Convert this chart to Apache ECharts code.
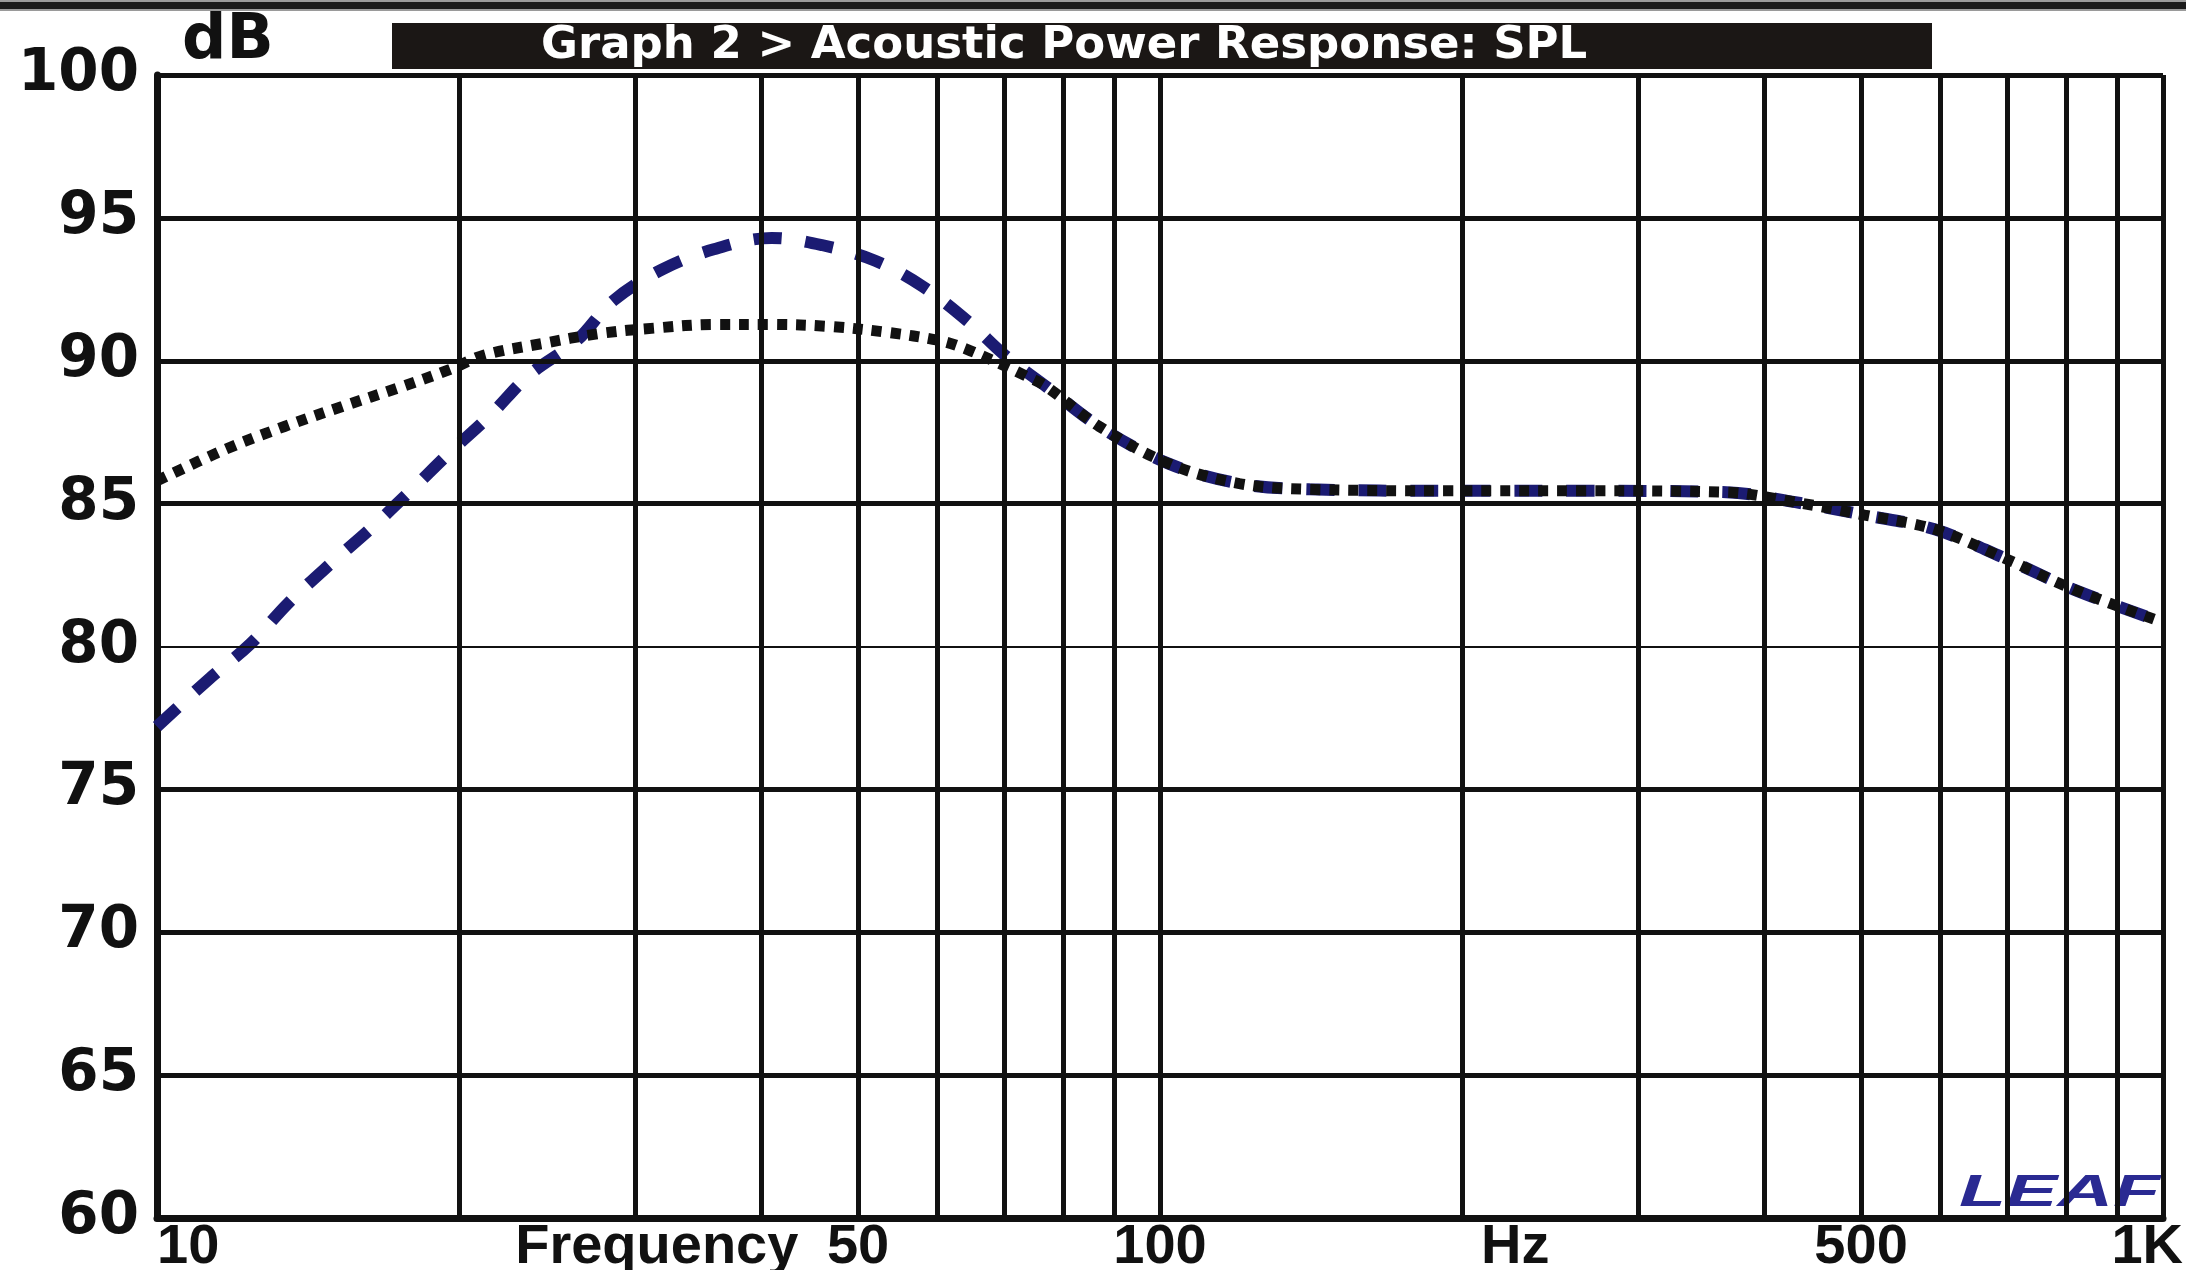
<!DOCTYPE html>
<html>
<head>
<meta charset="utf-8">
<script src="https://cdn.jsdelivr.net/npm/echarts@6/dist/echarts.min.js"></script>
<style>
html,body{margin:0;padding:0;background:#fff;}
#chart{width:2186px;height:1270px;}
</style>
</head>
<body>
<div id="chart"></div>
<script>
// ---- data ----
const titleText = 'Graph 2 > Acoustic Power Response: SPL';
const yName = 'dB';

// blue dashed curve
const freqBlue = [10, 11.3, 12.4, 13.5, 14.9, 16.3, 17.9, 19.6, 21.5, 23.5, 26.2, 28.5, 31.9, 35.9, 41, 46, 52, 58, 64.5, 70, 77, 87, 102, 120, 141, 194, 266, 367, 430, 504, 592, 694, 814, 990];
const splBlue  = [77.2, 78.9, 80.1, 81.5, 82.9, 84.1, 85.45, 86.8, 88.1, 89.5, 90.7, 92.1, 93.2, 93.9, 94.3, 94.05, 93.5, 92.6, 91.35, 90.2, 89.1, 87.7, 86.4, 85.7, 85.5, 85.45, 85.45, 85.4, 85.05, 84.6, 84.1, 83.1, 82.0, 80.9];

// black dotted curve
const freqBlack = [10, 11.7, 13.4, 15.3, 17.4, 19.6, 21.2, 24.2, 27.6, 31.5, 35.9, 41, 46.8, 53.3, 60.4, 64.2, 69.2, 73.7, 77, 87, 102, 120, 141, 194, 266, 367, 430, 504, 592, 694, 814, 990];
const splBlack  = [85.8, 86.9, 87.7, 88.4, 89.05, 89.7, 90.2, 90.6, 90.95, 91.15, 91.27, 91.27, 91.2, 91.0, 90.7, 90.4, 89.9, 89.45, 89.1, 87.7, 86.4, 85.7, 85.5, 85.45, 85.45, 85.4, 85.05, 84.6, 84.1, 83.1, 82.0, 80.9];

// axis ranges / ticks
const xMin = 10, xMax = 1000;
const yMin = 60, yMax = 100, yStep = 5;
const xGridValues = [20, 30, 40, 50, 60, 70, 80, 90, 100, 200, 300, 400, 500, 600, 700, 800, 900, 1000];
const yGridValues = [65, 70, 75, 80, 85, 90, 95, 100];
const yThinValue = 80;
const xLabelValues = [10, 31.5, 50, 100, 226, 500, 1000];
const xLabelTexts  = ['10', 'Frequency', '50', '100', 'Hz', '500', '1K'];
const logoText = 'LEAF';

// ---- build ----
const INK = '#111111';
const toPairs = (xs, ys) => xs.map((x, i) => [x, ys[i]]);

const labelData = xLabelValues.map((v, i) => {
  const item = { value: [v, yMin], name: xLabelTexts[i] };
  if (i === 0) item.label = { align: 'left', offset: [0, 0] };
  if (i === xLabelValues.length - 1) item.label = { align: 'right', offset: [20, 0] };
  return item;
});

const vLines = xGridValues.map(v => ({ xAxis: v }));
const hLines = yGridValues.map(v => (
  v === yThinValue ? { yAxis: v, lineStyle: { width: 2 } } : { yAxis: v }
));

const chart = echarts.init(document.getElementById('chart'), null, { renderer: 'canvas' });
chart.setOption({
  backgroundColor: '#ffffff',
  animation: false,
  title: {
    text: titleText,
    left: 541, top: 23, padding: 0, z: 10,
    textStyle: { fontFamily: 'DejaVu Sans', fontWeight: 'bold', fontSize: 45, color: '#ffffff', lineHeight: 46 }
  },
  graphic: [
    { type: 'rect', z: 0, shape: { x: 0, y: 0, width: 2186, height: 11 }, style: { fill: '#9a9a9a' } },
    { type: 'rect', z: 1, shape: { x: 0, y: 2, width: 2186, height: 7 }, style: { fill: '#1a1a1a' } },
    { type: 'rect', z: 1, shape: { x: 392, y: 23, width: 1540, height: 46 }, style: { fill: '#1b1715' } },
    { type: 'text', z: 5, x: 1959, y: 1172, scaleX: 1.75,
      style: { text: logoText, font: 'italic bold 44px "Liberation Sans"', fill: '#2a2a92' } }
  ],
  grid: { left: 157, right: 23, top: 75, bottom: 52, containLabel: false },
  xAxis: {
    type: 'log', logBase: 10, min: xMin, max: xMax,
    axisLine: { show: true, onZero: false, lineStyle: { color: INK, width: 7 } },
    axisTick: { show: false },
    axisLabel: { show: false },
    splitLine: { show: false },
    minorSplitLine: { show: false }
  },
  yAxis: {
    type: 'value', min: yMin, max: yMax, interval: yStep,
    name: yName, nameLocation: 'end', nameGap: 2,
    nameTextStyle: { fontFamily: 'DejaVu Sans', fontWeight: 'bold', fontSize: 62, color: INK, align: 'left', padding: [0, 0, 0, 25] },
    axisLine: { show: true, lineStyle: { color: INK, width: 7 } },
    axisTick: { show: false },
    axisLabel: { fontFamily: 'DejaVu Sans', fontWeight: 'bold', fontSize: 58, color: INK, margin: 18 },
    splitLine: { show: false }
  },
  series: [
    {
      name: 'labels', type: 'scatter', z: 1, clip: false, silent: true,
      symbolSize: 0, data: labelData,
      itemStyle: { opacity: 1 },
      label: {
        show: true, position: 'bottom', distance: 2,
        formatter: p => p.name,
        fontFamily: 'Liberation Sans', fontWeight: 'bold', fontSize: 56, color: INK, opacity: 1
      },
      markLine: {
        silent: true, symbol: 'none', animation: false,
        label: { show: false },
        lineStyle: { color: INK, width: 5, type: 'solid' },
        data: vLines.concat(hLines)
      }
    },
    {
      name: 'Blue', type: 'line', z: 3, smooth: 0.35, showSymbol: false, symbol: 'none',
      data: toPairs(freqBlue, splBlue),
      lineStyle: { color: '#1b1b72', width: 12, type: [28, 24], cap: 'butt' }
    },
    {
      name: 'Black', type: 'line', z: 4, smooth: 0.35, showSymbol: false, symbol: 'none',
      data: toPairs(freqBlack, splBlack),
      lineStyle: { color: '#111111', width: 11, type: [10, 9], cap: 'butt' }
    }
  ]
});
</script>
</body>
</html>
